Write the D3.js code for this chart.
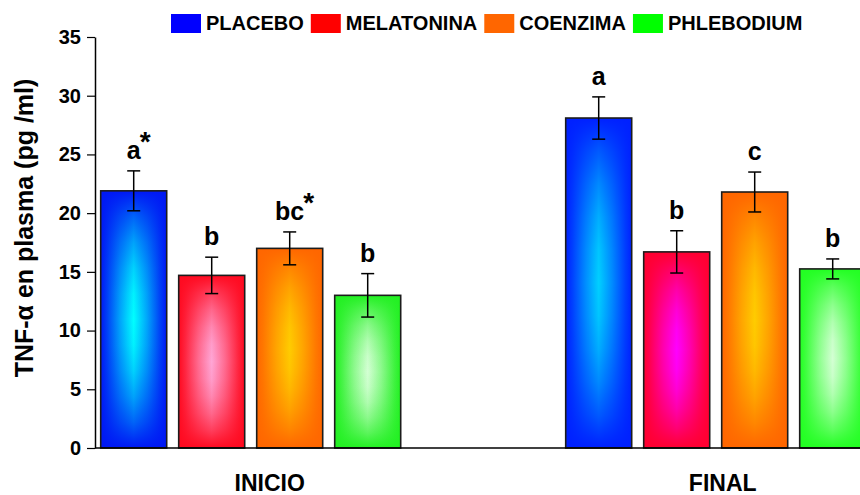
<!DOCTYPE html>
<html>
<head>
<meta charset="utf-8">
<script src="https://cdn.jsdelivr.net/npm/d3@7"></script>
<style>
  html, body { margin: 0; padding: 0; background: #ffffff; }
  svg { display: block; font-family: "Liberation Sans", Arial, Helvetica, sans-serif; font-weight: bold; }
</style>
</head>
<body>
<svg id="chart" width="860" height="495"></svg>
<script>
// ---- data ----
const groups = ["INICIO", "FINAL"];
const series = ["PLACEBO", "MELATONINA", "COENZIMA", "PHLEBODIUM"];
const inicioValues = [21.9, 14.7, 17.0, 13.0];
const inicioErrors = [1.7, 1.55, 1.4, 1.85];
const finalValues = [28.1, 16.7, 21.8, 15.25];
const finalErrors = [1.8, 1.8, 1.7, 0.85];
const inicioLetters = ["a", "b", "bc", "b"];
const finalLetters = ["a", "b", "c", "b"];
const inicioStars = [true, false, true, false];
const finalStars = [false, false, false, false];
const yTicks = [0, 5, 10, 15, 20, 25, 30, 35];

// ---- colours ----
const legendColors = ["#0000ff", "#ff0000", "#ff6600", "#00ff00"];
const inicioEdge = ["#0018f4", "#ff0a20", "#ff6600", "#22f022"];
const inicioCenter = ["#00ffff", "#ffa6d6", "#ffcc00", "#d4ffd4"];
const finalEdge = ["#0020ff", "#ff0030", "#ff6600", "#22ff22"];
const finalCenter = ["#00d0ff", "#ff00ff", "#ffcc00", "#d4ffd4"];

const values = { INICIO: inicioValues, FINAL: finalValues };
const errors = { INICIO: inicioErrors, FINAL: finalErrors };
const letters = { INICIO: inicioLetters, FINAL: finalLetters };
const stars = { INICIO: inicioStars, FINAL: finalStars };
const edges = { INICIO: inicioEdge, FINAL: finalEdge };
const centers = { INICIO: inicioCenter, FINAL: finalCenter };

const rows = [];
groups.forEach((g, gi) => series.forEach((s, si) => rows.push({
  group: g, gi, series: s, si,
  value: values[g][si], err: errors[g][si],
  letter: letters[g][si], star: stars[g][si],
  edge: edges[g][si], center: centers[g][si],
  id: "b" + gi + "_" + si
})));

// ---- layout ----
const svg = d3.select("#chart");
const axisX = 95;

const y = d3.scaleLinear().domain([0, 35]).range([448, 37]);
const x0 = d3.scaleBand().domain(groups).range([100.7, 865.7])
  .paddingInner(165 / 465).paddingOuter(0);
const x1 = d3.scaleBand().domain(series).range([0, x0.bandwidth()])
  .paddingInner(12 / 78).paddingOuter(0);

// ---- gradients: bright centre column fading to the edge colour on all sides ----
const defs = svg.append("defs");
function mix(a, b, t) { return d3.interpolateRgb(a, b)(t); }
const hStops = [[0, 0], [0.1, 0.18], [0.3, 0.62], [0.5, 1], [0.7, 0.62], [0.9, 0.18], [1, 0]];
const vFade = [0, 0.1, 0.2, 0.3, 0.4, 0.5, 0.6, 0.7, 0.8, 0.9, 1]
  .map(o => [o, Math.pow(Math.abs(2 * o - 1), 1.8)]);
rows.forEach(r => {
  const h = defs.append("linearGradient").attr("id", "h" + r.id)
    .attr("x1", 0).attr("y1", 0).attr("x2", 1).attr("y2", 0);
  hStops.forEach(([o, t]) =>
    h.append("stop").attr("offset", o).attr("stop-color", mix(r.edge, r.center, t)));
  const v = defs.append("linearGradient").attr("id", "v" + r.id)
    .attr("x1", 0).attr("y1", 0).attr("x2", 0).attr("y2", 1);
  vFade.forEach(([o, a]) =>
    v.append("stop").attr("offset", o).attr("stop-color", r.edge).attr("stop-opacity", a));
});

// ---- bars ----
const bars = svg.append("g").selectAll("g.bar").data(rows).join("g").attr("class", "bar");
bars.each(function (r) {
  const g = d3.select(this);
  const xa = x0(r.group) + x1(r.series);
  const w = x1.bandwidth();
  const ya = y(r.value), hgt = y(0) - y(r.value);
  g.append("rect").attr("x", xa).attr("y", ya).attr("width", w).attr("height", hgt)
    .attr("fill", `url(#h${r.id})`);
  g.append("rect").attr("x", xa).attr("y", ya).attr("width", w).attr("height", hgt)
    .attr("fill", `url(#v${r.id})`);
  g.append("rect").attr("x", xa).attr("y", ya).attr("width", w).attr("height", hgt)
    .attr("fill", "none").attr("stroke", "#1c1c1c").attr("stroke-width", 1.6);
});

// ---- error bars ----
const capHalf = 6.5;
const eb = svg.append("g").attr("stroke", "#000").attr("stroke-width", 1.5).attr("fill", "none");
rows.forEach(r => {
  const cx = x0(r.group) + x1(r.series) + x1.bandwidth() / 2;
  const yt = y(r.value + r.err), yl = y(r.value - r.err);
  eb.append("line").attr("x1", cx).attr("x2", cx).attr("y1", yt).attr("y2", yl);
  eb.append("line").attr("x1", cx - capHalf).attr("x2", cx + capHalf).attr("y1", yt).attr("y2", yt);
  eb.append("line").attr("x1", cx - capHalf).attr("x2", cx + capHalf).attr("y1", yl).attr("y2", yl);
});

// ---- significance letters ----
const lab = svg.append("g").attr("fill", "#000");
rows.forEach(r => {
  const cx = x0(r.group) + x1(r.series) + x1.bandwidth() / 2;
  const by = y(r.value + r.err) - 12;
  const t = lab.append("text").attr("x", cx).attr("y", by)
    .attr("text-anchor", "middle").attr("font-size", 25).text(r.letter);
  if (r.star) {
    const w = t.node().getComputedTextLength();
    lab.append("text").attr("x", cx + w / 2 - 1).attr("y", by - 8)
      .attr("font-size", 28).text("*");
  }
});

// ---- axes ----
const yAxis = svg.append("g").attr("transform", `translate(${axisX},0)`)
  .call(d3.axisLeft(y).tickValues(yTicks).tickSize(8).tickSizeOuter(0).tickPadding(6));
yAxis.attr("font-family", null);
yAxis.select(".domain").attr("stroke", "#000").attr("stroke-width", 1.5);
yAxis.selectAll(".tick line").attr("stroke", "#000").attr("stroke-width", 1.2);
yAxis.selectAll(".tick text").attr("font-size", 20).attr("font-weight", "bold").attr("fill", "#000");

svg.append("line").attr("x1", axisX).attr("x2", 860).attr("y1", y(0)).attr("y2", y(0))
  .attr("stroke", "#000").attr("stroke-width", 1.5);

// group labels below the axis
const groupLabelShift = { INICIO: 19, FINAL: 7 };
svg.append("g").selectAll("text").data(groups).join("text")
  .attr("x", d => x0(d) + x0.bandwidth() / 2 + groupLabelShift[d])
  .attr("y", 491).attr("text-anchor", "middle").attr("font-size", 23).text(d => d);

// y axis title
svg.append("text").attr("transform", "translate(33,228) rotate(-90)")
  .attr("text-anchor", "middle").attr("font-size", 25).text("TNF-α en plasma (pg /ml)");

// ---- legend ----
const legend = svg.append("g");
let lx = 171;
series.forEach((s, i) => {
  legend.append("rect").attr("x", lx).attr("y", 14).attr("width", 30).attr("height", 19)
    .attr("fill", legendColors[i]);
  const t = legend.append("text").attr("x", lx + 35).attr("y", 30)
    .attr("font-size", 20).text(s);
  lx = lx + 35 + t.node().getComputedTextLength() + 7;
});
</script>
</body>
</html>
